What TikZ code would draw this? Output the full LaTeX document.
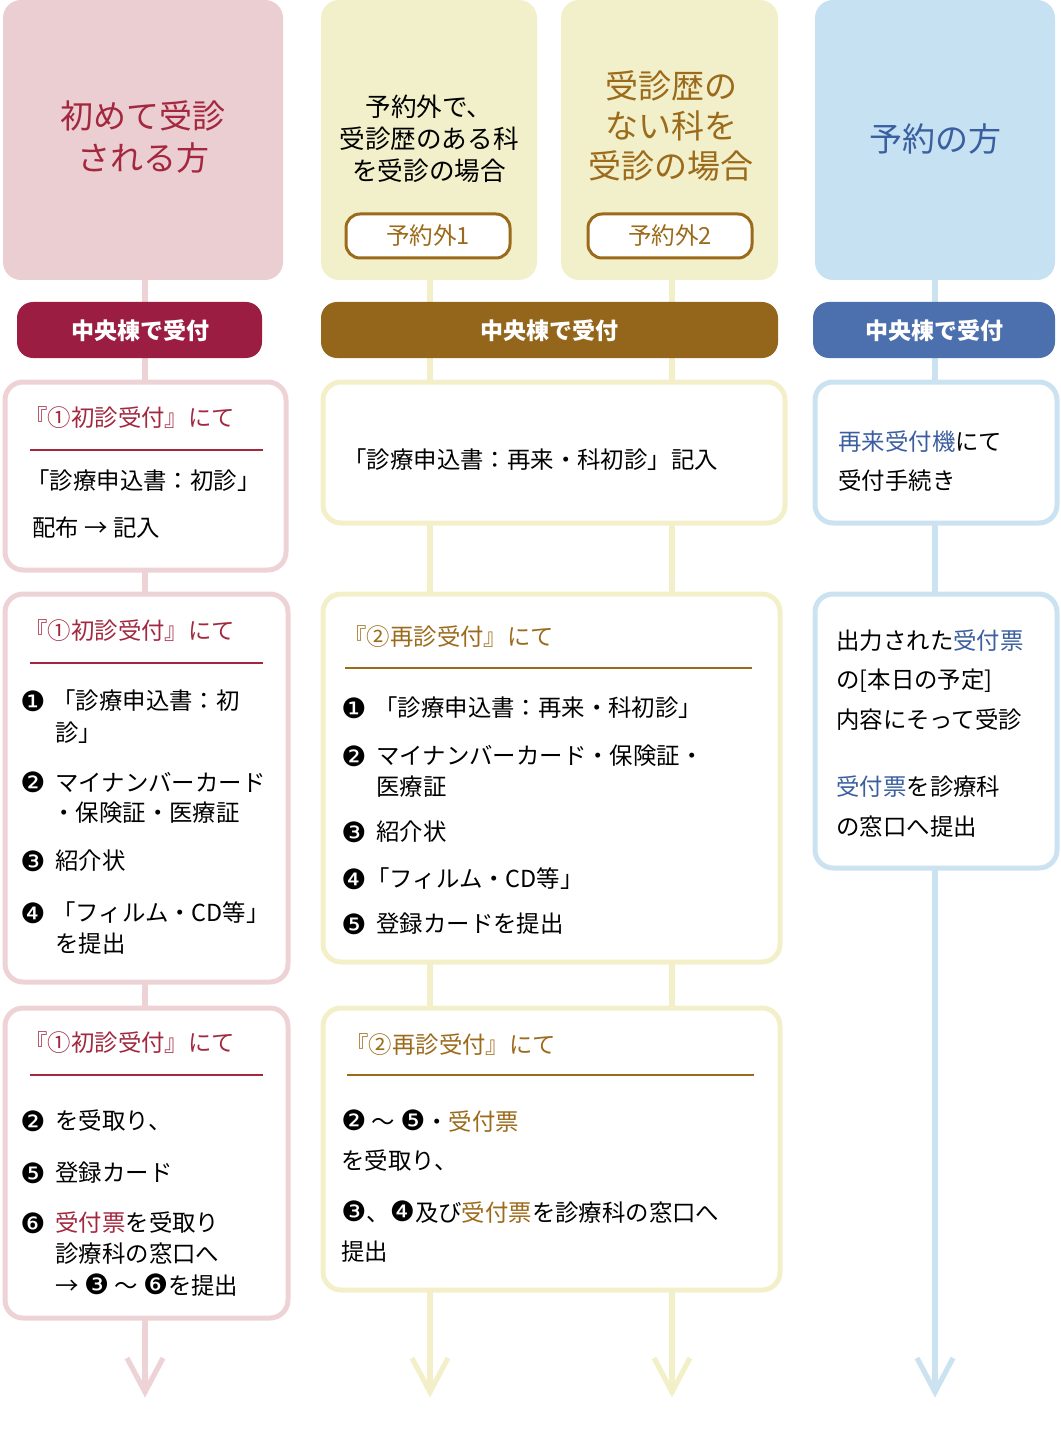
\documentclass[tikz,border=0pt]{standalone}
\usepackage{fontspec}
\setmainfont{Noto Sans CJK JP}
\newfontfamily\djv{DejaVu Sans}
\newcommand{\cn}[1]{{\djv\fontsize{14}{14}\selectfont #1}}
\definecolor{pkfill}{HTML}{EBCED2}
\definecolor{pkline}{HTML}{EED3D6}
\definecolor{pktext}{HTML}{A3283F}
\definecolor{pkband}{HTML}{9B1D42}
\definecolor{ylfill}{HTML}{F2F0CB}
\definecolor{ylline}{HTML}{F3F0C9}
\definecolor{brtext}{HTML}{9B6A1A}
\definecolor{brband}{HTML}{94661B}
\definecolor{blfill}{HTML}{C6E1F2}
\definecolor{blline}{HTML}{CBE2F1}
\definecolor{bltext}{HTML}{3A5E9F}
\definecolor{blband}{HTML}{4C6FAE}
\tikzset{
 hdr/.style={rounded corners=9pt},
 band/.style={rounded corners=8pt},
 wbox/.style={rounded corners=9pt,line width=2.5pt,fill=white},
 vline/.style={line width=2.6pt},
 txt/.style={anchor=west,inner sep=0pt,font=\fontsize{11.7}{14}\selectfont},
 ctxt/.style={align=center,inner sep=0pt},
 btxt/.style={text=white,font=\fontsize{11.5}{14}\selectfont\bfseries,inner sep=0pt},
 arr/.style={line width=2.6pt}
}
\begin{document}
\begin{tikzpicture}[x=0.5pt,y=-0.5pt]
\useasboundingbox (0,0) rectangle (1060,1433);
% vertical lines
\coordinate (t1) at (145,270); \coordinate (e1) at (145,1392);
\coordinate (t2) at (430,270); \coordinate (e2) at (430,1392);
\coordinate (t3) at (672,270); \coordinate (e3) at (672,1392);
\coordinate (t4) at (935,270); \coordinate (e4) at (935,1392);
\draw[vline,pkline] (t1) -- (e1);
\draw[vline,ylline] (t2) -- (e2);
\draw[vline,ylline] (t3) -- (e3);
\draw[vline,blline] (t4) -- (e4);
\draw[arr,pkline] (127,1358) -- (e1) -- (163,1358);
\draw[arr,ylline] (412,1358) -- (e2) -- (448,1358);
\draw[arr,ylline] (654,1358) -- (e3) -- (690,1358);
\draw[arr,blline] (917,1358) -- (e4) -- (953,1358);
% headers
\fill[hdr,pkfill] (3,0) rectangle (283,280);
\fill[hdr,ylfill] (321,0) rectangle (537,280);
\fill[hdr,ylfill] (561,0) rectangle (778,280);
\fill[hdr,blfill] (815,0) rectangle (1055,280);
\node[ctxt,text=pktext,font=\fontsize{16.5}{21}\selectfont] (h1) at (143,137) {初めて受診\\される方};
\node[ctxt,font=\fontsize{12.8}{16}\selectfont] (h2) at (429,139) {予約外で、\\受診歴のある科\\を受診の場合};
\node[ctxt,text=brtext,font=\fontsize{16.5}{20}\selectfont] (h3) at (671,126) {受診歴の\\ない科を\\受診の場合};
\node[ctxt,text=bltext,font=\fontsize{16.5}{20}\selectfont] (h4) at (935,139) {予約の方};
\node[draw=brtext,line width=1.5pt,fill=white,rounded corners=7pt,minimum width=82pt,minimum height=22pt,text=brtext,font=\fontsize{11.8}{14}\selectfont] (g1) at (428,236) {予約外1};
\node[draw=brtext,line width=1.5pt,fill=white,rounded corners=7pt,minimum width=82pt,minimum height=22pt,text=brtext,font=\fontsize{11.8}{14}\selectfont] (g2) at (670,236) {予約外2};
% bands
\fill[band,pkband] (17,302) rectangle (262,358);
\fill[band,brband] (321,302) rectangle (778,358);
\fill[band,blband] (813,302) rectangle (1055,358);
\node[btxt] (b1) at (140,331) {中央棟で受付};
\node[btxt] (b2) at (549,331) {中央棟で受付};
\node[btxt] (b4) at (934,331) {中央棟で受付};
% boxes
\draw[wbox,draw=pkline] (5,382) rectangle (286,570);
\draw[wbox,draw=pkline] (5,594) rectangle (288,982);
\draw[wbox,draw=pkline] (5,1008) rectangle (288,1318);
\draw[wbox,draw=ylline] (323,382) rectangle (785,523);
\draw[wbox,draw=ylline] (323,594) rectangle (780,962);
\draw[wbox,draw=ylline] (323,1008) rectangle (780,1290);
\draw[wbox,draw=blline] (815,382) rectangle (1057,523);
\draw[wbox,draw=blline] (815,594) rectangle (1057,868);
% rules
\draw[pktext,line width=1pt] (30,450) -- (263,450);
\draw[pktext,line width=1pt] (30,663) -- (263,663);
\draw[pktext,line width=1pt] (30,1075) -- (263,1075);
\draw[brtext,line width=1pt] (345,668) -- (752,668);
\draw[brtext,line width=1pt] (347,1075) -- (754,1075);
% col1 box1
\node[txt,text=pktext] (a1) at (24,418) {『①初診受付』にて};
\node[txt] (a2) at (26,481) {「診療申込書：初診」};
\node[txt] (a3) at (32,528) {配布 → 記入};
% col1 box2
\node[txt,text=pktext] (c1) at (24,631) {『①初診受付』にて};
\node[txt] (c2n) at (20,701) {\cn{❶}};
\node[txt] (c2) at (52,701) {「診療申込書：初};
\node[txt] (c3) at (55,733) {診」};
\node[txt] (c4n) at (20,782) {\cn{❷}};
\node[txt] (c4) at (55,782) {マイナンバーカード};
\node[txt] (c5) at (52,813) {・保険証・医療証};
\node[txt] (c6n) at (20,861) {\cn{❸}};
\node[txt] (c6) at (55,861) {紹介状};
\node[txt] (c7n) at (20,913) {\cn{❹}};
\node[txt] (c7) at (52,913) {「フィルム・CD等」};
\node[txt] (c8) at (55,944) {を提出};
% col1 box3
\node[txt,text=pktext] (d1) at (24,1043) {『①初診受付』にて};
\node[txt] (d2n) at (20,1121) {\cn{❷}};
\node[txt] (d2) at (55,1121) {を受取り、};
\node[txt] (d3n) at (20,1173) {\cn{❺}};
\node[txt] (d3) at (55,1173) {登録カード};
\node[txt] (d4n) at (20,1223) {\cn{❻}};
\node[txt] (d4) at (55,1223) {\textcolor{pktext}{受付票}を受取り};
\node[txt] (d5) at (55,1254) {診療科の窓口へ};
\node[txt] (d6) at (55,1285) {→ \cn{❸} ～ \cn{❻}を提出};
% col2 box1
\node[txt] (f1) at (343,460) {「診療申込書：再来・科初診」記入};
% col2 box2
\node[txt,text=brtext] (g0) at (343,637) {『②再診受付』にて};
\node[txt] (k1n) at (341,708) {\cn{❶}};
\node[txt] (k1) at (374,708) {「診療申込書：再来・科初診」};
\node[txt] (k2n) at (341,756) {\cn{❷}};
\node[txt] (k2) at (376,756) {マイナンバーカード・保険証・};
\node[txt] (k3) at (376,787) {医療証};
\node[txt] (k4n) at (341,832) {\cn{❸}};
\node[txt] (k4) at (376,832) {紹介状};
\node[txt] (k5n) at (341,879) {\cn{❹}};
\node[txt] (k5) at (366,879) {「フィルム・CD等」};
\node[txt] (k6n) at (341,924) {\cn{❺}};
\node[txt] (k6) at (376,924) {登録カードを提出};
% col2 box3
\node[txt,text=brtext] (m0) at (345,1045) {『②再診受付』にて};
\node[txt] (m1) at (341,1121) {\cn{❷} ～ \cn{❺}・\textcolor{brtext}{受付票}};
\node[txt] (m2) at (341,1161) {を受取り、};
\node[txt] (m3) at (341,1212) {\cn{❸}、\cn{❹}及び\textcolor{brtext}{受付票}を診療科の窓口へ};
\node[txt] (m4) at (341,1252) {提出};
% col4
\node[txt] (p1) at (838,442) {\textcolor{bltext}{再来受付機}にて};
\node[txt] (p2) at (838,481) {受付手続き};
\node[txt] (q1) at (836,641) {出力された\textcolor{bltext}{受付票}};
\node[txt] (q2) at (836,681) {の[本日の予定]};
\node[txt] (q3) at (836,720) {内容にそって受診};
\node[txt] (q4) at (836,787) {\textcolor{bltext}{受付票}を診療科};
\node[txt] (q5) at (836,827) {の窓口へ提出};
\end{tikzpicture}
\end{document}
